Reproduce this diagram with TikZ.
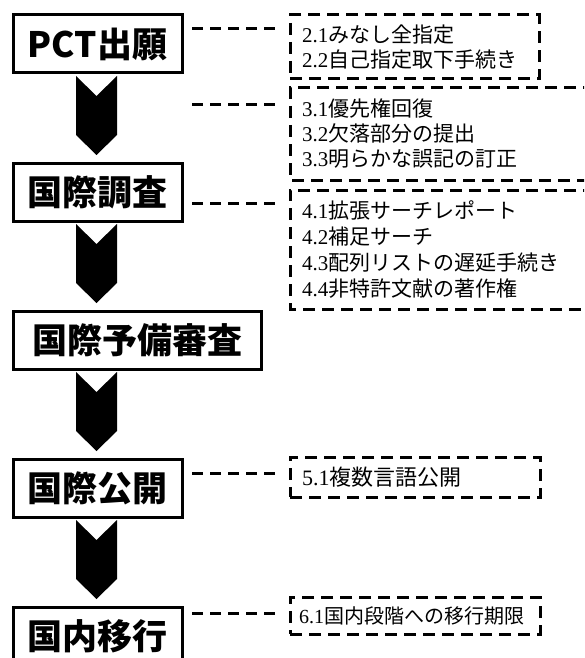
\documentclass[tikz,border=0pt]{standalone}
\usepackage{fontspec}
\setmainfont{Liberation Serif}
\newfontfamily\jp{Noto Sans CJK JP}
\usetikzlibrary{calc}
\newcommand\sidetext[2]{#1{\jp #2}}
\newcommand\chevron[2]{\fill let \p1=(#1.south west), \p2=(#2.north) in
  (\x1+63pt,\y1-3pt) -- (\x1+83.5pt,\y1-23pt) -- (\x1+104pt,\y1-3pt) --
  (\x1+104pt,\y2+28pt) -- (\x1+83.5pt,\y2+8pt) -- (\x1+63pt,\y2+28pt) -- cycle;}
\begin{document}
\begin{tikzpicture}[x=1pt,y=-1pt,
  mainbox/.style={draw, line width=3pt, fill=white, minimum height=58pt,
    minimum width=169pt, inner sep=0pt, outer sep=0pt,
    font=\jp\bfseries\fontsize{35}{35}\selectfont},
  sidebox/.style={line width=3pt, dash pattern=on 12pt off 7pt,
    inner xsep=12pt, inner ysep=0pt, outer sep=0pt, anchor=north west,
    align=left, font=\fontsize{21}{25}\selectfont},
  sideline/.style={line width=3pt, dash pattern=on 12pt off 7pt},
  conn/.style={line width=3pt, dash pattern=on 11pt off 7pt,
    shorten <=10pt, shorten >=10pt}]
\useasboundingbox (0,0) rectangle (584,658);
\clip (0,0) rectangle (584,658);

% main steps
\node[mainbox] (pct) at (97.5,44) {PCT出願};
\node[mainbox] (isr) at (97.5,192) {国際調査};
\node[mainbox, minimum width=248pt] (iper) at (137,340) {国際予備審査};
\node[mainbox] (pub) at (97.5,488) {国際公開};
\node[mainbox] (nat) at (97.5,636) {国内移行};

% chevrons
\chevron{pct}{isr}
\chevron{isr}{iper}
\chevron{iper}{pub}
\chevron{pub}{nat}

% side boxes
\node[sidebox, draw, text width=225pt, minimum height=64pt] (s2) at (290,15)
  {\sidetext{2.1}{みなし全指定}\\\sidetext{2.2}{自己指定取下手続き}};
\node[sidebox, text width=300pt, minimum height=92pt] (s3) at (290,88)
  {\sidetext{3.1}{優先権回復}\\\sidetext{3.2}{欠落部分の提出}\\\sidetext{3.3}{明らかな誤記の訂正}};
\draw[sideline] (s3.north east) -- (s3.north west) -- (s3.south west) -- (s3.south east);
\node[sidebox, text width=300pt, minimum height=119pt,
  font=\fontsize{21}{26}\selectfont] (s4) at (290,190)
  {\sidetext{4.1}{拡張サーチレポート}\\\sidetext{4.2}{補足サーチ}\\\sidetext{4.3}{配列リストの遅延手続き}\\\sidetext{4.4}{非特許文献の著作権}};
\draw[sideline] (s4.north east) -- (s4.north west) -- (s4.south west) -- (s4.south east);
\node[sidebox, draw, text width=226pt, inner xsep=12pt, minimum height=40pt,
  font=\fontsize{22}{25}\selectfont] (s5) at (290,457)
  {\sidetext{5.1}{複数言語公開}};
\node[sidebox, draw, text width=232pt, inner xsep=9pt, minimum height=37pt,
  font=\fontsize{20}{25}\selectfont] (s6) at (290,597)
  {\sidetext{6.1}{国内段階への移行期限}};

% connectors
\coordinate (c1) at (0,29);
\coordinate (c2) at (0,105);
\coordinate (c3) at (0,203);
\coordinate (c5) at (0,473);
\coordinate (c6) at (0,613);
\draw[conn] (pct.east |- c1) -- (s2.west |- c1);
\draw[conn] (pct.east |- c2) -- (s3.west |- c2);
\draw[conn] (isr.east |- c3) -- (s4.west |- c3);
\draw[conn] (pub.east |- c5) -- (s5.west |- c5);
\draw[conn] (nat.east |- c6) -- (s6.west |- c6);
\end{tikzpicture}
\end{document}
